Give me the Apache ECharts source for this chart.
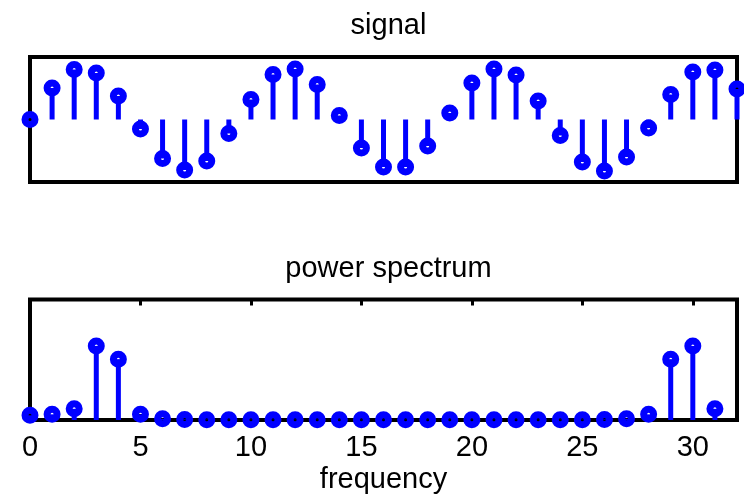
<!DOCTYPE html>
<html>
<head>
<meta charset="utf-8">
<script src="https://cdn.jsdelivr.net/npm/echarts@6/dist/echarts.min.js"></script>
<style>
  html, body { margin: 0; padding: 0; background: #fff; }
  #chart { width: 744px; height: 495px; }
</style>
</head>
<body>
<div id="chart"></div>
<script>
// Sampled signal, n = 0..32
const sampleIndex = [0,1,2,3,4,5,6,7,8,9,10,11,12,13,14,15,16,17,18,19,20,21,22,23,24,25,26,27,28,29,30,31,32];
const signalValues = [0, 0.63, 1.0, 0.93, 0.47, -0.19, -0.78, -1.01, -0.83, -0.28, 0.40, 0.90, 1.01, 0.70, 0.08, -0.57,
  -0.95, -0.95, -0.53, 0.13, 0.73, 1.01, 0.89, 0.37, -0.32, -0.85, -1.03, -0.75, -0.17, 0.50, 0.95, 0.99, 0.61];

// Power spectrum, frequency bins 0..31
const freqIndex = [0,1,2,3,4,5,6,7,8,9,10,11,12,13,14,15,16,17,18,19,20,21,22,23,24,25,26,27,28,29,30,31];
const powerValues = [7.7, 9.4, 18.6, 123, 101, 9.4, 2.1, 1.0, 0.5, 0.3, 0.3, 0.3, 0.3, 0.3, 0.3, 0.3,
  0.3, 0.3, 0.3, 0.3, 0.3, 0.3, 0.3, 0.3, 0.3, 0.5, 1.0, 2.1, 9.4, 101, 123, 18.6];

const freqTicks = [0, 5, 10, 15, 20, 25, 30];

const FONT = 'Liberation Sans, Arial, Helvetica, sans-serif';
const BLUE = '#0000ff';
const TEXT_SIZE = 29;

function pairs(xs, ys) { return xs.map((x, i) => [x, ys[i]]); }

const stem = (gi, data) => ({
  type: 'bar', xAxisIndex: gi === 0 ? 0 : 1, yAxisIndex: gi,
  data: data, barWidth: 5, itemStyle: { color: BLUE }, silent: true, z: 3
});
const heads = (gi, data) => ({
  type: 'scatter', xAxisIndex: gi === 0 ? 0 : 1, yAxisIndex: gi,
  data: data, symbol: 'circle', symbolSize: 10,
  itemStyle: { color: 'rgba(0,0,0,0)', borderColor: BLUE, borderWidth: 7, opacity: 1 },
  silent: true, z: 4
});

const chart = echarts.init(document.getElementById('chart'), null, { renderer: 'canvas' });
chart.setOption({
  animation: false,
  backgroundColor: '#fff',
  title: [
    { text: 'signal', left: 383.5, textAlign: 'center', top: 6,
      textStyle: { fontFamily: FONT, fontSize: TEXT_SIZE, fontWeight: 'normal', color: '#000' } },
    { text: 'power spectrum', left: 383.5, textAlign: 'center', top: 249,
      textStyle: { fontFamily: FONT, fontSize: TEXT_SIZE, fontWeight: 'normal', color: '#000' } }
  ],
  grid: [
    { left: 30, top: 57, width: 707, height: 125, show: true, borderColor: '#000', borderWidth: 4, backgroundColor: '#fff' },
    { left: 30, top: 299.5, width: 707, height: 121, show: true, borderColor: '#000', borderWidth: 4, backgroundColor: '#fff' }
  ],
  xAxis: [
    { gridIndex: 0, type: 'value', min: 0, max: 32, axisLine: { show: false }, axisTick: { show: false },
      axisLabel: { show: false }, splitLine: { show: false } },
    { gridIndex: 1, type: 'value', min: 0, max: 32, interval: 5, position: 'bottom',
      axisLine: { show: false },
      axisTick: { show: true, inside: true, length: 6, lineStyle: { color: '#000', width: 3 } },
      axisLabel: { show: true, fontFamily: FONT, fontSize: TEXT_SIZE, color: '#000', margin: 13,
        customValues: freqTicks, formatter: v => String(v) },
      splitLine: { show: false },
      name: 'frequency', nameLocation: 'middle', nameGap: 45,
      nameTextStyle: { fontFamily: FONT, fontSize: TEXT_SIZE, color: '#000' } },
    { gridIndex: 1, type: 'value', min: 0, max: 32, interval: 5, position: 'top',
      axisLine: { show: false },
      axisTick: { show: true, inside: true, length: 6, lineStyle: { color: '#000', width: 3 } },
      axisLabel: { show: false }, splitLine: { show: false } }
  ],
  yAxis: [
    { gridIndex: 0, type: 'value', min: -1.25, max: 1.25, axisLine: { show: false }, axisTick: { show: false },
      axisLabel: { show: false }, splitLine: { show: false } },
    { gridIndex: 1, type: 'value', min: 0, max: 200, axisLine: { show: false }, axisTick: { show: false },
      axisLabel: { show: false }, splitLine: { show: false } }
  ],
  series: [
    stem(0, pairs(sampleIndex, signalValues)),
    heads(0, pairs(sampleIndex, signalValues)),
    stem(1, pairs(freqIndex, powerValues)),
    heads(1, pairs(freqIndex, powerValues))
  ]
});
</script>
</body>
</html>
